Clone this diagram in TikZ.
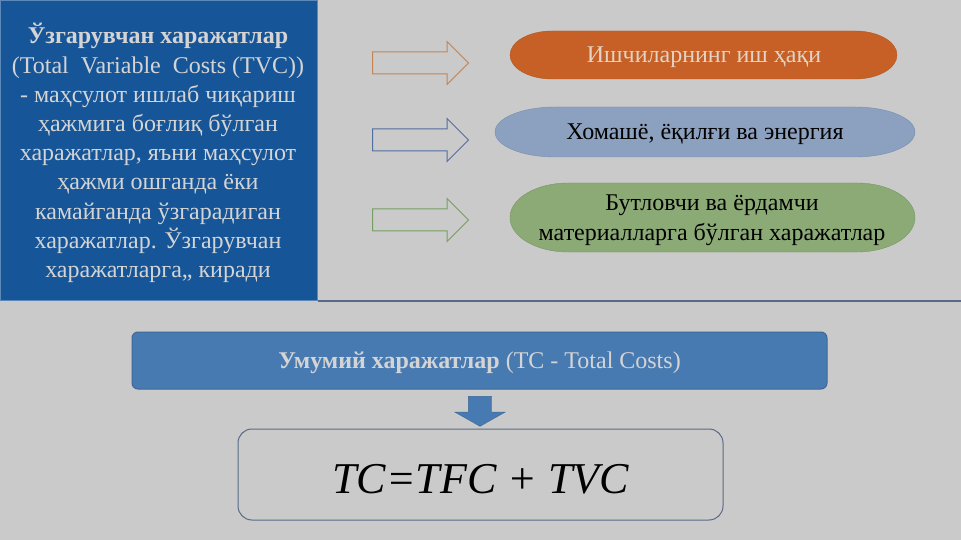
\documentclass[tikz,border=0pt]{standalone}
\usepackage{fontspec}
\setmainfont{Liberation Serif}
\usetikzlibrary{shapes.arrows,positioning}

\definecolor{bggray}{RGB}{202,202,202}
\definecolor{boxblue}{RGB}{22,86,152}
\definecolor{lighttext}{RGB}{212,212,212}
\definecolor{sepline}{RGB}{88,106,136}
\definecolor{wagefill}{RGB}{198,96,38}
\definecolor{wagetext}{RGB}{226,212,196}
\definecolor{rawfill}{RGB}{140,161,192}
\definecolor{rawline}{RGB}{118,140,176}
\definecolor{partfill}{RGB}{140,170,118}
\definecolor{partline}{RGB}{118,150,98}
\definecolor{barblue}{RGB}{72,122,178}
\definecolor{orangeline}{RGB}{196,132,84}
\definecolor{blueline}{RGB}{82,110,160}
\definecolor{greenline}{RGB}{118,160,98}

\begin{document}
\begin{tikzpicture}[
  x=1pt, y=-1pt,
  every node/.style={font=\fontsize{24}{29}\selectfont},
  hollowarrow/.style={single arrow, draw, line width=1pt, fill=bggray,
    minimum height=96pt, inner sep=10.5pt, single arrow head extend=10.5pt},
  pilltext/.style={align=center, font=\fontsize{24}{30}\selectfont},
  bartext/.style={text=lighttext, font=\fontsize{24}{29}\selectfont},
]

% ========= Background =========
\fill[bggray] (0,0) rectangle (961,540);
\useasboundingbox (0,0) rectangle (961,540);

% ========= Left panel: variable costs =========
\node[fill=boxblue, draw=boxblue!70!white, line width=1pt, anchor=north west,
      minimum width=317pt, minimum height=300pt, inner sep=0pt] at (0,0) (tvcbox) {};
\node[text=lighttext, align=center, font=\fontsize{24}{29.2}\selectfont]
  at (158,153) (tvctext) {\textbf{Ўзгарувчан харажатлар}\\
  (Total\ \ Variable\ \ Costs (TVC))\\
  - маҳсулот ишлаб чиқариш\\
  ҳажмига боғлиқ бўлган\\
  харажатлар, яъни маҳсулот\\
  ҳажми ошганда ёки\\
  камайганда ўзгарадиган\\
  харажатлар. Ўзгарувчан\\
  харажатларга,, киради};

\coordinate (lineend) at (961,301);
\draw[sepline, line width=1.5pt] (tvcbox.south east) -- (lineend);

% ========= Hollow arrows =========
\node[hollowarrow, draw=orangeline] at (415,63) (arrwage) {};
\node[hollowarrow, draw=blueline] at (415,140) (arrraw) {};
\node[hollowarrow, draw=greenline] at (415,220) (arrpart) {};

% ========= Pills =========
\filldraw[fill=wagefill, draw=wagefill!90!black] (552,31) -- (855,31)
  arc[start angle=-90, end angle=90, x radius=42, y radius=24] -- (552,79)
  arc[start angle=90, end angle=270, x radius=42, y radius=24] -- cycle;
\filldraw[fill=rawfill, draw=rawline] (555,107) -- (855,107)
  arc[start angle=-90, end angle=90, x radius=60, y radius=25] -- (555,157)
  arc[start angle=90, end angle=270, x radius=60, y radius=25] -- cycle;
\filldraw[fill=partfill, draw=partline] (568,183) -- (857,183)
  arc[start angle=-90, end angle=90, x radius=58, y radius=34.5] -- (568,252)
  arc[start angle=90, end angle=270, x radius=58, y radius=34.5] -- cycle;

\node[pilltext, text=wagetext] at (704,57) (wage) {Ишчиларнинг иш ҳақи};
\node[pilltext] at (705,134) (raw) {Хомашё, ёқилғи ва энергия};
\node[pilltext] at (712,220) (parts) {Бутловчи ва ёрдамчи\\материалларга бўлган харажатлар};

% ========= Total costs =========
\node[fill=barblue, draw=barblue!85!black, rounded corners=6pt, line width=1pt,
      minimum width=695pt, minimum height=57pt, text depth=0pt, bartext]
  at (479.5,360.5) (tcbar)
  {\textbf{Умумий харажатлар} (TC - Total Costs)};

\node[single arrow, fill=barblue, draw=barblue!85!black, shape border rotate=270,
      minimum height=28pt, inner sep=11.5pt, single arrow head extend=13.5pt,
      single arrow tip angle=121] at (480,408) (downarr) {};

\node[draw=sepline, rounded corners=14pt, line width=1pt,
      minimum width=485pt, minimum height=91pt, text height=38pt,
      font=\fontsize{44}{50}\selectfont\itshape] at (480.5,474.5) (formula)
  {TC=TFC + TVC};

\end{tikzpicture}
\end{document}
